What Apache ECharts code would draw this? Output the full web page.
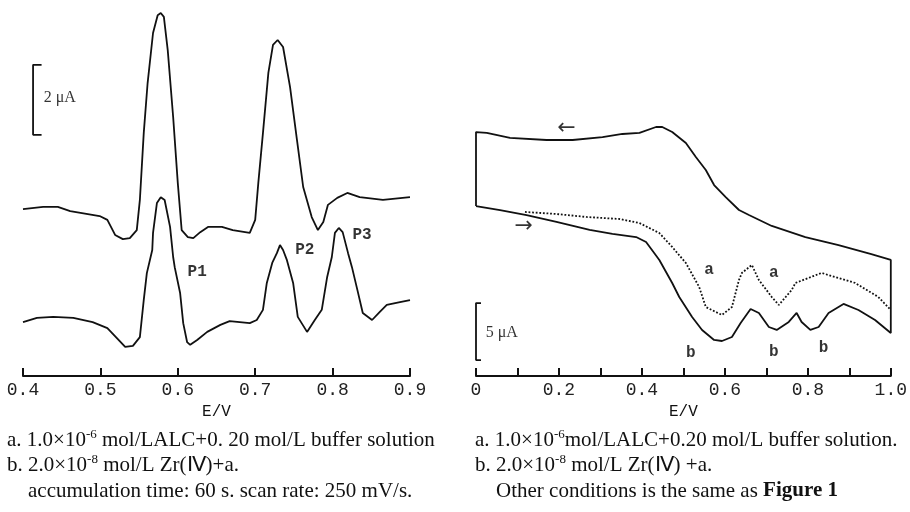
<!DOCTYPE html>
<html>
<head>
<meta charset="utf-8">
<script src="https://cdn.jsdelivr.net/npm/echarts@6/dist/echarts.min.js"></script>
<style>
  html, body { margin: 0; padding: 0; background: #fff; }
  #chart { width: 910px; height: 512px; }
</style>
</head>
<body>
<div id="chart"></div>
<script>
// ---- left panel: adsorptive voltammograms, E/V vs current (uA) ----
const leftE_a = [0.400,0.426,0.445,0.461,0.499,0.509,0.519,0.529,0.538,0.547,0.551,0.556,0.561,0.568,0.574,0.578,0.582,0.587,0.594,0.600,0.605,0.613,0.620,0.629,0.639,0.657,0.671,0.693,0.700,0.704,0.710,0.717,0.723,0.729,0.736,0.745,0.754,0.762,0.773,0.781,0.788,0.794,0.806,0.819,0.835,0.865,0.900]
const leftI_a = [4.77,4.83,4.83,4.71,4.57,4.46,4.03,3.91,3.94,4.17,5.03,6.94,8.37,9.80,10.31,10.37,10.26,9.31,7.40,5.51,4.17,3.97,3.94,4.11,4.26,4.26,4.17,4.09,4.46,5.51,6.94,8.66,9.46,9.60,9.40,8.26,6.74,5.40,4.54,4.17,4.40,4.89,5.09,5.23,5.11,5.03,5.11]

const leftE_b = [0.400,0.418,0.439,0.465,0.490,0.509,0.521,0.532,0.542,0.551,0.556,0.560,0.567,0.568,0.573,0.578,0.583,0.590,0.594,0.596,0.603,0.607,0.612,0.616,0.625,0.638,0.655,0.667,0.693,0.702,0.710,0.715,0.722,0.728,0.732,0.736,0.741,0.749,0.755,0.767,0.777,0.786,0.793,0.799,0.803,0.808,0.813,0.820,0.825,0.832,0.839,0.851,0.861,0.870,0.887,0.900]
const leftI_b = [1.54,1.66,1.69,1.66,1.54,1.37,1.09,0.83,0.86,1.11,2.17,2.94,3.60,4.09,4.94,5.11,5.03,4.26,3.40,3.11,2.37,1.51,0.97,0.89,1.03,1.26,1.46,1.57,1.51,1.60,1.89,2.66,3.23,3.51,3.74,3.60,3.31,2.66,1.69,1.26,1.60,1.89,2.83,3.40,4.09,4.23,4.11,3.51,3.11,2.46,1.80,1.60,1.83,2.03,2.11,2.17]

// 2 uA scale bracket
const leftBarE = [0.424, 0.413, 0.413, 0.424]
const leftBarI = [8.89, 8.89, 6.89, 6.89]

const leftLabels = [
  { name: 'P1', value: [0.625, 2.97] },
  { name: 'P2', value: [0.764, 3.60] },
  { name: 'P3', value: [0.838, 4.03] }
]

// ---- right panel: cyclic voltammograms ----
// closed loop (curve b): forward scan, up the right edge, reverse scan, back down
const rightE_b = [0.000,0.058,0.122,0.194,0.274,0.329,0.386,0.410,0.442,0.473,0.490,0.521,0.545,0.574,0.593,0.617,0.638,0.662,0.682,0.706,0.725,0.754,0.773,0.785,0.806,0.826,0.850,0.886,0.922,0.962,1.000,
  1.000,0.953,0.874,0.794,0.713,0.658,0.634,0.602,0.574,0.554,0.530,0.506,0.473,0.449,0.434,0.394,0.353,0.305,0.233,0.170,0.082,0.026,0.000,0.000]
const rightI_b = [14.91,14.56,14.12,13.51,12.81,12.46,12.19,11.75,10.18,8.16,6.93,5.18,4.04,3.16,3.07,3.42,4.65,5.88,5.53,4.30,4.04,4.74,5.53,4.74,4.04,4.30,5.53,6.32,5.79,4.91,3.77,
  10.18,10.70,11.49,12.19,13.16,14.12,14.56,15.70,16.75,18.07,19.21,20.44,21.40,21.84,21.84,21.32,21.23,20.96,20.70,20.70,20.88,21.32,21.40,14.91]

const rightE_a = [0.118,0.194,0.266,0.346,0.394,0.442,0.473,0.506,0.538,0.554,0.593,0.617,0.634,0.641,0.665,0.682,0.713,0.730,0.761,0.770,0.833,0.914,0.970,1.000]
const rightI_a = [14.39,14.21,13.95,13.77,13.42,12.54,11.32,9.91,7.81,6.05,5.35,6.05,8.42,9.04,9.74,8.42,6.93,6.23,7.54,8.16,9.04,8.16,6.93,5.79]

// 5 uA scale bracket
const rightBarE = [0.012, 0.000, 0.000, 0.012]
const rightBarI = [6.40, 6.40, 1.40, 1.40]

const rightLabels = [
  { name: 'a', value: [0.562, 9.30] },
  { name: 'a', value: [0.718, 9.04] },
  { name: 'b', value: [0.518, 2.02] },
  { name: 'b', value: [0.718, 2.11] },
  { name: 'b', value: [0.838, 2.46] }
]

const zip = (xs, ys) => xs.map((x, i) => [x, ys[i]])

const monoFont = 'Liberation Mono'
const serifFont = 'Liberation Serif'

function xAxisBase(gridIndex, min, max, fmt) {
  return {
    gridIndex: gridIndex,
    type: 'value',
    min: min,
    max: max,
    interval: 0.1,
    name: 'E/V',
    nameLocation: 'middle',
    nameGap: 27,
    nameTextStyle: { fontFamily: monoFont, fontSize: 16, color: '#111' },
    axisLine: { show: true, lineStyle: { color: '#111', width: 2 } },
    axisTick: { show: true, inside: true, length: 8, lineStyle: { color: '#111', width: 2 } },
    axisLabel: { margin: 5, fontFamily: monoFont, fontSize: 18, color: '#222', formatter: fmt },
    splitLine: { show: false }
  }
}

function plainLine(name, xi, data, type) {
  return {
    name: name,
    type: 'line',
    xAxisIndex: xi,
    yAxisIndex: xi,
    data: data,
    symbol: 'none',
    silent: true,
    lineStyle: { color: '#111', width: 1.8, type: type || 'solid' },
    z: 3
  }
}

function textSeries(xi, data, fontSize) {
  return {
    type: 'scatter',
    xAxisIndex: xi,
    yAxisIndex: xi,
    symbolSize: 0,
    silent: true,
    data: data,
    label: {
      show: true,
      position: 'inside',
      formatter: '{b}',
      fontFamily: monoFont,
      fontWeight: 'bold',
      fontSize: fontSize,
      color: '#000'
    }
  }
}

const chart = echarts.init(document.getElementById('chart'))

const capRich = {
  sup: { fontFamily: serifFont, fontSize: 13, padding: [0, 0, 10, 0], color: '#111' },
  b: { fontFamily: serifFont, fontSize: 21, fontWeight: 'bold', color: '#111' }
}
function caption(x, y, text) {
  return {
    type: 'text',
    x: x,
    y: y,
    style: {
      text: text,
      font: '21px "Liberation Serif"',
      fill: '#111',
      verticalAlign: 'middle',
      rich: capRich
    }
  }
}

chart.setOption({
  animation: false,
  backgroundColor: '#fff',
  grid: [
    { left: 23, right: 500, top: 8.5, bottom: 136 },
    { left: 476, right: 17, top: 11.2, bottom: 136 }
  ],
  xAxis: [
    xAxisBase(0, 0.4, 0.9, v => v.toFixed(1)),
    xAxisBase(1, 0, 1.0, v => {
      const k = Math.round(v * 10)
      if (k === 0) return '0'
      return k % 2 === 0 ? (k / 10).toFixed(1) : ''
    })
  ],
  yAxis: [
    { gridIndex: 0, type: 'value', min: 0, max: 10.5, show: false },
    { gridIndex: 1, type: 'value', min: 0, max: 32, show: false }
  ],
  series: [
    plainLine('a', 0, zip(leftE_a, leftI_a)),
    plainLine('b', 0, zip(leftE_b, leftI_b)),
    plainLine('bar', 0, zip(leftBarE, leftBarI)),
    textSeries(0, leftLabels, 16),
    textSeries(0, [{ name: '2 μA', value: [0.428, 7.94], label: { position: 'right', offset: [-6, 0], fontFamily: serifFont, fontWeight: 'normal', fontSize: 16 } }], 16),

    plainLine('b', 1, zip(rightE_b, rightI_b)),
    plainLine('a', 1, zip(rightE_a, rightI_a), 'dotted'),
    plainLine('bar', 1, zip(rightBarE, rightBarI)),
    textSeries(1, rightLabels, 16),
    textSeries(1, [
      { name: '5 μA', value: [0.026, 3.77], label: { position: 'right', offset: [-6, 0], fontFamily: serifFont, fontWeight: 'normal', fontSize: 16 } },
      { name: '←', value: [0.218, 21.75], label: { fontFamily: 'DejaVu Sans', fontWeight: 'normal', fontSize: 22 } },
      { name: '→', value: [0.115, 13.16], label: { fontFamily: 'DejaVu Sans', fontWeight: 'normal', fontSize: 22 } }
    ], 16)
  ],
  graphic: [
    caption(7, 440, 'a. 1.0×10{sup|-6} mol/LALC+0. 20 mol/L buffer solution'),
    caption(7, 465, 'b. 2.0×10{sup|-8} mol/L Zr(Ⅳ)+a.'),
    caption(28, 491, 'accumulation time: 60 s. scan rate: 250 mV/s.'),
    caption(475, 440, 'a. 1.0×10{sup|-6}mol/LALC+0.20 mol/L buffer solution.'),
    caption(475, 465, 'b. 2.0×10{sup|-8} mol/L Zr(Ⅳ) +a.'),
    caption(496, 491, 'Other conditions is the same as {b|Figure 1}')
  ]
})
</script>
</body>
</html>
